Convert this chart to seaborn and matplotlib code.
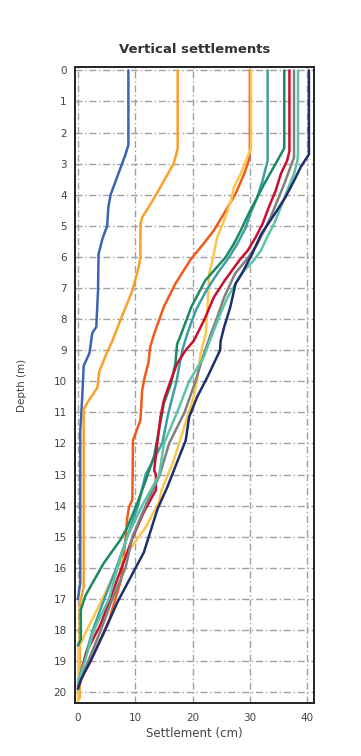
import pandas as pd
import matplotlib
matplotlib.use("Agg")
import matplotlib.pyplot as plt
import seaborn as sns

# depth (m) / settlement (cm), one pair of lists per curve
blue_d = [0, 2.4, 2.7, 3.1, 3.55, 4.0, 4.4, 5.0, 5.4, 5.9, 7.1, 8.25, 8.45, 9.1, 9.5, 10.3, 11.0, 11.6, 16.5, 17.0]
blue_s = [8.8, 8.8, 8.3, 7.5, 6.6, 5.7, 5.3, 5.1, 4.3, 3.6, 3.5, 3.2, 2.5, 2.0, 1.0, 0.8, 0.6, 0.4, 0.4, 0.0]

orange_d = [0, 2.5, 2.8, 3.0, 3.65, 4.2, 4.73, 4.95, 6.0, 6.33, 7.08, 7.9, 8.7, 9.1, 9.7, 10.2, 10.7, 10.9, 16.6, 17.2, 20.2]
orange_s = [17.4, 17.4, 17.0, 16.7, 14.7, 13.0, 11.2, 10.9, 10.9, 10.6, 9.5, 7.7, 6.0, 5.0, 3.7, 3.4, 1.6, 1.0, 1.0, 0.3, 0.3]

orangered_d = [0, 2.6, 2.9, 3.33, 3.97, 4.6, 5.15, 5.6, 6.1, 6.86, 7.6, 8.47, 8.9, 9.4, 9.9, 10.3,
               11.25, 11.5, 11.9, 13.8, 14.05, 14.4, 15.1, 16.4, 17.7, 19.0, 19.4, 19.9]
orangered_s = [30.0, 30.0, 29.8, 29.0, 27.5, 25.5, 23.7, 21.8, 19.6, 17.0, 15.0, 13.3, 12.6, 12.3, 11.6, 11.2,
               10.9, 10.4, 9.6, 9.5, 8.9, 8.6, 8.3, 7.5, 5.4, 2.2, 1.0, 0.0]

yellow_d = [0, 2.5, 3.33, 3.76, 4.19, 4.83, 5.37, 6.0, 6.54, 7.6, 8.47, 9.1, 9.97, 10.5, 11.15, 12.55,
            13.5, 13.9, 14.7, 15.0, 16.0, 17.1, 18.1, 18.6, 20.3]
yellow_s = [30.2, 30.2, 28.4, 27.2, 26.7, 25.5, 24.3, 23.6, 22.9, 22.6, 22.3, 21.4, 20.8, 20.2, 19.1, 16.7,
            14.6, 14.1, 11.8, 10.6, 6.8, 4.0, 1.3, 0.1, 0.0]

teal_d = [0, 2.9, 3.55, 4.08, 4.6, 5.05, 5.58, 6.0, 6.54, 7.08, 7.7, 8.4, 9.0, 10.0, 11.0, 12.0,
          13.0, 14.0, 15.0, 16.0, 17.0, 18.0, 19.0, 19.7]
teal_s = [33.1, 33.1, 32.2, 31.3, 30.1, 29.3, 27.8, 26.4, 24.3, 22.4, 20.6, 19.2, 18.2, 17.2, 15.8, 14.7,
          11.8, 10.5, 8.6, 6.7, 4.6, 2.6, 1.0, 0.0]

green_d = [0, 2.5, 2.7, 3.1, 3.65, 4.08, 4.6, 5.15, 5.58, 6.0, 6.76, 7.6, 8.58, 8.8, 9.43, 10.1, 10.7,
           11.6, 12.4, 13.2, 13.9, 14.7, 15.1, 15.85, 16.4, 16.9, 17.35, 18.3, 18.5]
green_s = [36.0, 36.0, 35.4, 34.2, 32.5, 31.3, 29.8, 28.4, 27.2, 25.8, 22.2, 19.8, 17.8, 17.3, 17.0, 16.2, 15.0,
           14.1, 13.3, 11.8, 10.4, 8.6, 7.4, 4.5, 2.8, 1.3, 0.5, 0.5, 0.0]

red_d = [0, 2.6, 2.9, 3.33, 3.87, 4.4, 4.94, 5.37, 5.8, 6.1, 6.76, 7.3, 8.04, 8.7, 9.0, 9.43, 9.97, 10.6,
         11.15, 11.9, 12.86, 13.0, 13.5, 14.2, 15.0, 16.0, 17.0, 17.8, 18.7, 19.5, 19.8]
red_s = [36.9, 36.9, 36.5, 35.4, 34.5, 33.3, 32.2, 31.0, 29.6, 28.2, 25.6, 23.7, 22.0, 20.2, 18.8, 17.3, 16.2, 15.0,
         14.4, 13.9, 13.3, 13.6, 13.6, 11.5, 9.6, 7.6, 5.6, 4.0, 1.5, 0.4, 0.0]

grey_d = [0, 2.8, 3.1, 3.65, 4.19, 4.73, 5.15, 5.58, 6.0, 6.54, 7.3, 7.94, 8.47, 9.1, 10.0, 11.0, 12.0,
          13.0, 14.0, 15.0, 16.0, 17.0, 18.0, 19.0, 19.8]
grey_s = [37.7, 37.7, 37.1, 36.0, 34.8, 33.6, 32.5, 31.3, 29.8, 27.4, 25.5, 24.3, 23.2, 22.0, 20.5, 18.6, 15.9,
          14.3, 11.8, 9.5, 8.3, 6.0, 4.0, 1.8, 0.0]

seafoam_d = [0, 2.7, 2.9, 3.33, 3.87, 4.4, 4.94, 5.37, 5.8, 6.1, 6.54, 7.3, 7.94, 8.7, 9.2, 10.0, 11.0,
             12.0, 13.0, 14.0, 15.0, 16.0, 17.0, 18.0, 19.0, 19.7]
seafoam_s = [38.4, 38.4, 38.3, 37.7, 36.5, 35.4, 34.2, 33.0, 31.9, 30.7, 28.5, 26.1, 24.6, 23.0, 22.0, 19.4, 17.3,
             15.0, 14.2, 11.2, 8.6, 6.9, 5.4, 2.8, 1.2, 0.0]

navy_d = [0, 2.7, 3.1, 3.55, 4.08, 4.6, 5.26, 5.9, 6.54, 6.86, 7.6, 8.26, 8.7, 9.0, 9.86, 10.5, 11.15,
          11.9, 12.6, 13.4, 14.1, 14.8, 15.5, 16.3, 17.1, 18.1, 19.0, 19.6, 19.9]
navy_s = [40.3, 40.3, 38.9, 37.7, 36.2, 34.4, 32.0, 30.4, 28.6, 27.5, 26.6, 25.5, 24.9, 24.8, 22.6, 20.8, 19.4,
          18.8, 17.3, 15.6, 13.9, 12.7, 11.5, 9.2, 6.9, 4.5, 2.2, 0.5, 0.0]

curves = {
    "blue": (blue_d, blue_s),
    "orange": (orange_d, orange_s),
    "orangered": (orangered_d, orangered_s),
    "yellow": (yellow_d, yellow_s),
    "teal": (teal_d, teal_s),
    "green": (green_d, green_s),
    "red": (red_d, red_s),
    "grey": (grey_d, grey_s),
    "seafoam": (seafoam_d, seafoam_s),
    "navy": (navy_d, navy_s),
}
colors = {
    "blue": "#3d63b5", "orange": "#f7a12b", "orangered": "#f25a1a", "yellow": "#f9c74a",
    "teal": "#3f9ea3", "green": "#1b8a5f", "red": "#c8102e", "grey": "#808080",
    "seafoam": "#5dc3a6", "navy": "#1f2f6e",
}

rows = []
for name, (d, s) in curves.items():
    for di, si in zip(d, s):
        rows.append({"curve": name, "depth": di, "settlement": si})
df = pd.DataFrame(rows)

sns.set_style("white")
plt.rcParams["font.family"] = ["DejaVu Sans"]

fig = plt.figure(figsize=(3.61, 7.56), dpi=100)
ax = fig.add_axes([0.208, 0.070, 0.662, 0.841])

sns.lineplot(data=df, x="settlement", y="depth", hue="curve", palette=colors,
             orient="y", sort=False, estimator=None, linewidth=1.8, legend=False, ax=ax)

ax.set_xlim(-0.5, 41.2)
ax.set_ylim(20.35, -0.1)
ax.set_xticks([0, 10, 20, 30, 40])
ax.set_yticks(range(0, 21))
ax.grid(True, color="#a0a0a0", linestyle=(0, (5, 2, 1, 2)), linewidth=1.0)
ax.set_axisbelow(True)
for sp in ax.spines.values():
    sp.set_color("#222222")
    sp.set_linewidth(1.4)
ax.tick_params(axis="both", direction="out", length=3, width=1, colors="#222222",
               labelsize=7.5, labelcolor="#444444")
ax.tick_params(axis="x", pad=4)
ax.tick_params(axis="y", pad=3)

ax.set_title("Vertical settlements", fontsize=9.5, fontweight="bold", color="#333333", pad=10)
ax.set_xlabel("Settlement (cm)", fontsize=8.5, color="#444444", labelpad=3)
ax.set_ylabel("Depth (m)", fontsize=7.5, color="#444444", labelpad=19)

fig.savefig("out.png", dpi=100)
